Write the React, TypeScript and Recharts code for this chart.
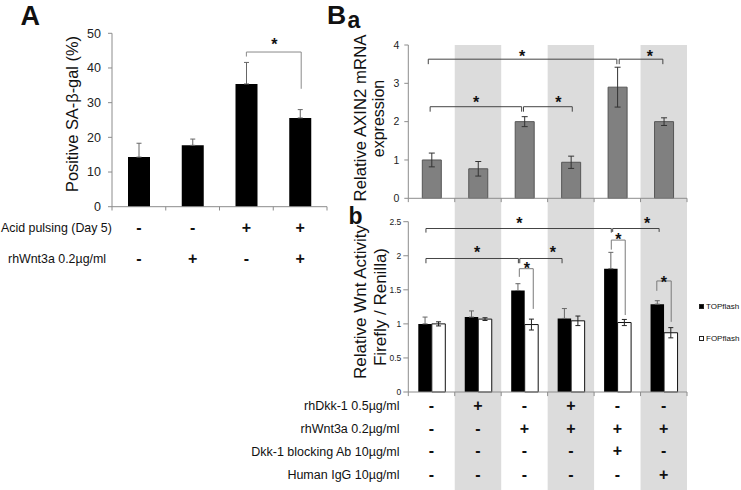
import React from 'react';
import { BarChart, Bar, XAxis, YAxis, ErrorBar, ReferenceLine, ReferenceArea, ReferenceDot, Legend } from 'recharts';

const FONT = '"Liberation Sans", Arial, Helvetica, sans-serif';
const AXIS = '#8c8c8c';
const SHADE = '#dcdcdc';

// panel A: SA-beta-gal positive cells
const saGal = [14.3, 17.7, 35.4, 25.6];
const saGalErr = [4.0, 1.8, 6.2, 2.4];
const acidPulsing = ['-', '-', '+', '+'];
const wnt3aA = ['-', '+', '-', '+'];
const rowLabelsA = ['Acid pulsing (Day 5)', 'rhWnt3a 0.2µg/ml'];
const ticksA = [0, 10, 20, 30, 40, 50];

// panel B: AXIN2 mRNA (a) and TOP/FOPflash reporter (b)
const axin2 = [1.0, 0.77, 2.0, 0.94, 2.9, 2.0];
const axin2Err = [0.18, 0.19, 0.13, 0.16, 0.52, 0.1];
const topflash = [1.0, 1.1, 1.49, 1.08, 1.81, 1.29];
const topflashErr = [0.1, 0.09, 0.1, 0.145, 0.24, 0.05];
const fopflash = [1.0, 1.07, 0.99, 1.045, 1.02, 0.87];
const fopflashErr = [0.03, 0.02, 0.08, 0.07, 0.045, 0.075];
const rhDkk1 = ['-', '+', '-', '+', '-', '-'];
const rhWnt3a = ['-', '-', '+', '+', '+', '+'];
const dkkAb = ['-', '-', '-', '-', '+', '-'];
const humanIgG = ['-', '-', '-', '-', '-', '+'];
const rowLabelsB = ['rhDkk-1 0.5µg/ml', 'rhWnt3a 0.2µg/ml', 'Dkk-1 blocking Ab 10µg/ml', 'Human IgG 10µg/ml'];
const seriesOrder = ['TOPflash', 'FOPflash'];
const shaded = [1, 3, 5];
const ticksBa = [0, 1, 2, 3, 4];
const ticksBb = [0, 0.5, 1, 1.5, 2, 2.5];

// significance brackets in data units: [x1, x2, y, left leg end, right leg end]
const bracketsA = [[2.5, 3.52, 44.6, 43.3, 34]];
const starsA = [[3.02, 47.9]];
const bracketsBa = [
  [0.43, 4.49, 3.63, 3.5, 3.5],
  [4.54, 5.48, 3.63, 3.5, 3.5],
  [0.47, 2.44, 2.39, 2.26, 2.26],
  [2.48, 3.53, 2.39, 2.26, 2.26],
];
const starsBa = [[2.45, 3.81], [5.2, 3.81], [1.46, 2.61], [3.23, 2.6]];
const bracketsBb = [
  [0.38, 4.37, 2.4, 2.34, 2.34],
  [4.4, 5.4, 2.4, 2.35, 2.35],
  [0.38, 2.37, 1.96, 1.89, 1.89],
  [2.4, 3.31, 1.96, 1.89, 1.89],
];
const pairBracketsBb = [
  [2.39, 2.69, 1.81, 1.69, 1.22],
  [4.37, 4.67, 2.23, 2.09, 1.13],
  [5.35, 5.66, 1.63, 1.485, 1.03],
];
const starsBb = [[2.39, 2.525], [5.14, 2.53], [1.48, 2.1], [3.11, 2.1], [2.55, 1.865], [4.52, 2.29], [5.5, 1.67]];

const dataA = saGal.map((v, i) => ({ x: i + 0.5, v, e: [0, saGalErr[i]] }));
const dataB = axin2.map((v, i) => ({
  x: i + 0.5,
  axin2: v,
  axin2Err: axin2Err[i],
  top: topflash[i],
  topErr: [0, topflashErr[i]],
  fop: fopflash[i],
  fopErr: fopflashErr[i],
}));

const edges = (n: number) => Array.from({ length: n + 1 }, (_, i) => i);
const centers = (n: number) => Array.from({ length: n }, (_, i) => i + 0.5);

const tableTick = (rows: string[][], offsets: number[]) => (props: any) => {
  const { x, y, index } = props;
  return (
    <g>
      {rows.map((row, r) => (
        <text key={r} x={x} y={y + offsets[r]} textAnchor="middle" dominantBaseline="central"
          fontFamily={FONT} fontWeight="bold" fontSize={16} fill="#111">{row[index]}</text>
      ))}
    </g>
  );
};

// small tick marks at the category boundaries, hanging below the x axis
function edgeTicks(n: number, len: number) {
  return edges(n).map((e) => (
    <ReferenceLine key={`e${e}`} xAxisId="b" segment={[{ x: e, y: 0 }, { x: e, y: -len }]} stroke={AXIS} ifOverflow="visible" />
  ));
}

function brackets(list: number[][], stroke: string, key: string) {
  const out: any[] = [];
  list.forEach(([x1, x2, y, yl, yr], i) => {
    const segs = [
      [{ x: x1, y }, { x: x2, y }],
      [{ x: x1, y }, { x: x1, y: yl }],
      [{ x: x2, y }, { x: x2, y: yr }],
    ];
    segs.forEach((s, k) => out.push(
      <ReferenceLine key={`${key}-${i}-${k}`} xAxisId="b" segment={s} stroke={stroke} strokeWidth={1} ifOverflow="visible" />
    ));
  });
  return out;
}

function stars(list: number[][], key: string) {
  return list.map(([x, y], i) => (
    <ReferenceDot key={`${key}-${i}`} xAxisId="b" x={x} y={y} r={0} ifOverflow="visible"
      shape={(p: any) => (
        <text x={p.cx} y={p.cy + 9.3} textAnchor="middle" fontFamily={FONT} fontWeight="bold" fontSize={16} fill="#111">*</text>
      )} />
  ));
}

function shadeAreas(y1: number, y2: number) {
  return shaded.map((c) => (
    <ReferenceArea key={`s${c}`} xAxisId="b" x1={c} x2={c + 1} y1={y1} y2={y2} fill={SHADE} fillOpacity={1} stroke="none" ifOverflow="visible" />
  ));
}

function ChartA() {
  return (
    <BarChart width={340} height={290} data={dataA} margin={{ top: 33.3, right: 13, bottom: 82.3, left: 0 }}>
      <XAxis xAxisId="b" type="number" dataKey="x" domain={[0, 4]} allowDataOverflow ticks={centers(4)} interval={0} height={1}
        axisLine={{ stroke: AXIS }} tickLine={false} tickSize={0} tickMargin={0}
        tick={tableTick([acidPulsing, wnt3aA], [20.3, 51.5])} />
      <YAxis width={112} domain={[0, 50]} ticks={ticksA} interval={0} tickSize={4} tickMargin={7}
        axisLine={{ stroke: AXIS }} tickLine={{ stroke: AXIS }} tick={{ fill: '#222', fontSize: 12.5, fontFamily: FONT }} />
      <Bar xAxisId="b" dataKey="v" fill="#000" barSize={22} isAnimationActive={false}>
        <ErrorBar dataKey="e" width={2.5} stroke="#666" strokeWidth={1} />
      </Bar>
      {edgeTicks(4, 1.1)}
      {brackets(bracketsA, '#8a8a8a', 'a')}
      {stars(starsA, 'sa')}
    </BarChart>
  );
}

function ChartBa() {
  return (
    <BarChart width={401} height={222} data={dataB} margin={{ top: 45, right: 54, bottom: 22.7, left: 0 }}>
      {shadeAreas(-0.62, 4)}
      <XAxis xAxisId="b" type="number" dataKey="x" domain={[0, 6]} allowDataOverflow ticks={centers(6)} interval={0} tick={false}
        tickLine={false} height={1} axisLine={{ stroke: AXIS }} />
      <YAxis width={68.3} domain={[0, 4]} ticks={ticksBa} interval={0} tickSize={4} tickMargin={5}
        axisLine={{ stroke: AXIS }} tickLine={{ stroke: AXIS }} tick={{ fill: '#222', fontSize: 10.5, fontFamily: FONT }} />
      <Bar xAxisId="b" dataKey="axin2" fill="#808080" stroke="#555" barSize={19} isAnimationActive={false}>
        <ErrorBar dataKey="axin2Err" width={3} stroke="#333" strokeWidth={1} />
      </Bar>
      {edgeTicks(6, 0.1)}
      {brackets(bracketsBa, '#444', 'ba')}
      {stars(starsBa, 'sba')}
    </BarChart>
  );
}

function LegendBox(p: any) {
  const items = [...(p.payload || [])].sort((a: any, b: any) => seriesOrder.indexOf(a.value) - seriesOrder.indexOf(b.value));
  return (
    <div style={{ fontFamily: FONT, fontSize: 8, color: '#111', whiteSpace: 'nowrap' }}>
      {items.map((e: any) => (
        <div key={e.value} style={{ height: 32.3, display: 'flex', alignItems: 'center' }}>
          <span style={{ display: 'inline-block', width: 5, height: 5, boxSizing: 'border-box', background: e.color, border: '1px solid #222', marginRight: 2 }} />
          {e.value}
        </div>
      ))}
    </div>
  );
}

function ChartBb() {
  return (
    <BarChart width={401} height={290} data={dataB} margin={{ top: 21.7, right: 54, bottom: 97, left: 0 }} barGap={0}>
      {shadeAreas(-1.46, 2.5)}
      <XAxis xAxisId="b" type="number" dataKey="x" domain={[0, 6]} allowDataOverflow ticks={centers(6)} interval={0} height={1}
        axisLine={{ stroke: AXIS }} tickLine={false} tickSize={0} tickMargin={0}
        tick={tableTick([rhDkk1, rhWnt3a, dkkAb, humanIgG], [13, 36.3, 58.7, 82])} />
      <YAxis width={68.3} domain={[0, 2.5]} ticks={ticksBb} interval={0} tickSize={5} tickMargin={2}
        axisLine={{ stroke: AXIS }} tickLine={{ stroke: AXIS }} tick={{ fill: '#222', fontSize: 8.5, fontFamily: FONT }} />
      <Bar xAxisId="b" dataKey="top" name="TOPflash" fill="#000" barSize={13.5} isAnimationActive={false}>
        <ErrorBar dataKey="topErr" width={2.5} stroke="#666" strokeWidth={1} />
      </Bar>
      <Bar xAxisId="b" dataKey="fop" name="FOPflash" fill="#fff" stroke="#111" barSize={13.5} isAnimationActive={false}>
        <ErrorBar dataKey="fopErr" width={2.5} stroke="#222" strokeWidth={1} />
      </Bar>
      {edgeTicks(6, 0.06)}
      {brackets(bracketsBb, '#444', 'bb')}
      {brackets(pairBracketsBb, '#7a7a7a', 'pb')}
      {stars(starsBb, 'sbb')}
      <Legend layout="vertical" align="center" verticalAlign="middle"
        wrapperStyle={{ left: 359, top: 90.5, width: 42 }} content={LegendBox} />
    </BarChart>
  );
}

export default function App() {
  const txt = { fontFamily: FONT, fill: '#111' };
  return (
    <div style={{ position: 'absolute', left: 0, top: 0, width: 741, height: 490, overflow: 'hidden', background: '#fff' }}>
      <div style={{ position: 'absolute', left: 0, top: 0 }}><ChartA /></div>
      <div style={{ position: 'absolute', left: 340, top: 0 }}><ChartBa /></div>
      <div style={{ position: 'absolute', left: 340, top: 200 }}><ChartBb /></div>
      <svg width={741} height={490} style={{ position: 'absolute', left: 0, top: 0, pointerEvents: 'none' }}>
        <text x={20.5} y={24.5} fontSize={27} fontWeight="bold" {...txt}>A</text>
        <text x={327} y={24} fontSize={26.5} fontWeight="bold" {...txt}>B</text>
        <text x={347.5} y={28.3} fontSize={23} fontWeight="bold" {...txt}>a</text>
        <text x={348.5} y={223.5} fontSize={23} fontWeight="bold" {...txt}>b</text>

        <text x={72} y={114} transform="rotate(-90 72 114)" textAnchor="middle" dominantBaseline="central" fontSize={16.4} {...txt}>Positive SA-β-gal (%)</text>
        <text x={360} y={118} transform="rotate(-90 360 118)" textAnchor="middle" dominantBaseline="central" fontSize={16.8} {...txt}>Relative AXIN2 mRNA</text>
        <text x={378} y={118.5} transform="rotate(-90 378 118.5)" textAnchor="middle" dominantBaseline="central" fontSize={16} {...txt}>expression</text>
        <text x={360} y={302} transform="rotate(-90 360 302)" textAnchor="middle" dominantBaseline="central" fontSize={17} {...txt}>Relative Wnt Activity</text>
        <text x={380} y={307} transform="rotate(-90 380 307)" textAnchor="middle" dominantBaseline="central" fontSize={17} {...txt}>Firefly / Renilla)</text>

        <text x={1} y={228} dominantBaseline="central" fontSize={12.4} {...txt}>{rowLabelsA[0]}</text>
        <text x={8} y={259} dominantBaseline="central" fontSize={12.4} {...txt}>{rowLabelsA[1]}</text>
        {rowLabelsB.map((l, i) => (
          <text key={l} x={399.5} y={[406, 429.3, 451.7, 475][i]} textAnchor="end" dominantBaseline="central" fontSize={12.5} {...txt}>{l}</text>
        ))}
      </svg>
    </div>
  );
}
